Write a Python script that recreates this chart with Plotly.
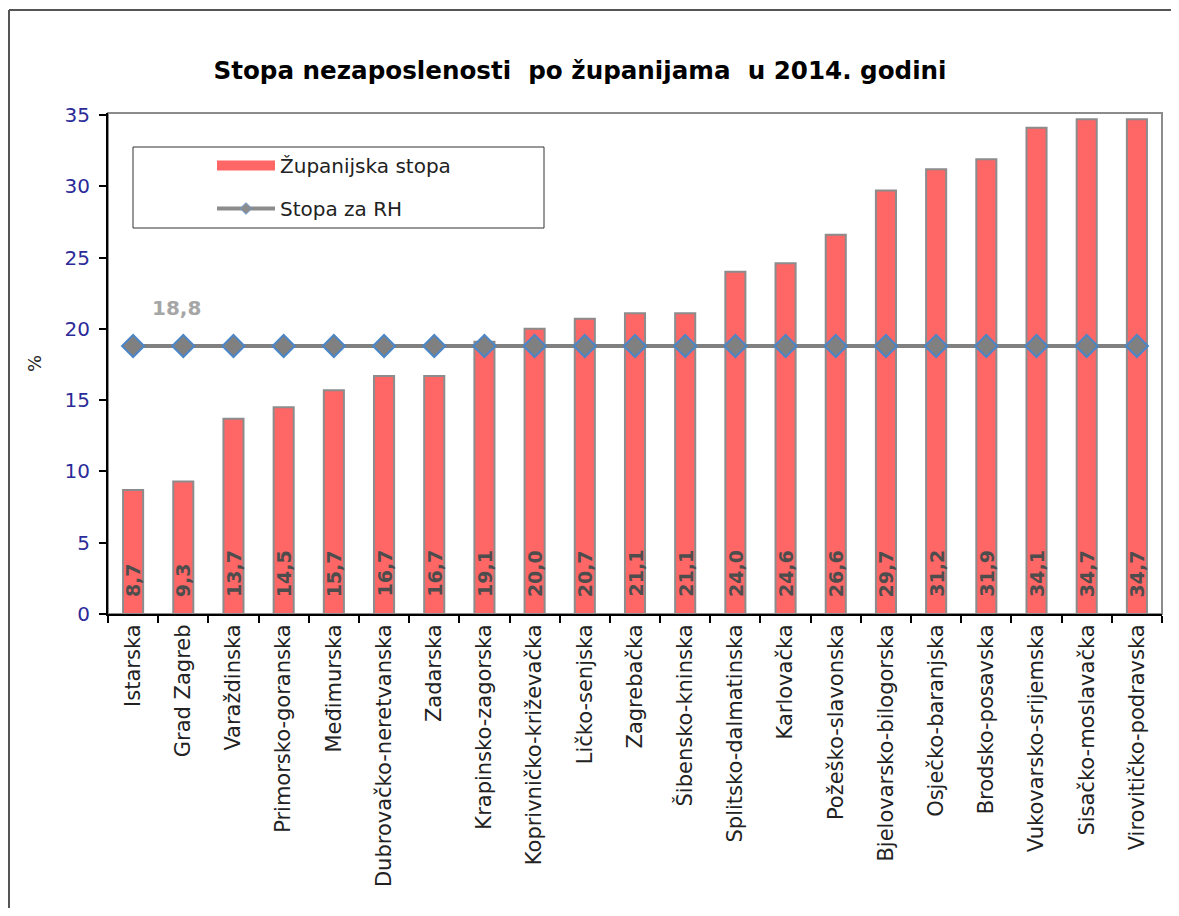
import plotly.graph_objects as go

counties = ["Istarska", "Grad Zagreb", "Varaždinska", "Primorsko-goranska", "Međimurska",
            "Dubrovačko-neretvanska", "Zadarska", "Krapinsko-zagorska", "Koprivničko-križevačka",
            "Ličko-senjska", "Zagrebačka", "Šibensko-kninska", "Splitsko-dalmatinska", "Karlovačka",
            "Požeško-slavonska", "Bjelovarsko-bilogorska", "Osječko-baranjska", "Brodsko-posavska",
            "Vukovarsko-srijemska", "Sisačko-moslavačka", "Virovitičko-podravska"]
county_rate = [8.7, 9.3, 13.7, 14.5, 15.7, 16.7, 16.7, 19.1, 20.0, 20.7, 21.1, 21.1,
               24.0, 24.6, 26.6, 29.7, 31.2, 31.9, 34.1, 34.7, 34.7]
national_rate = 18.8
national_line = [national_rate] * len(counties)
bar_labels = [f"{v:.1f}".replace(".", ",") for v in county_rate]
y_ticks = [0, 5, 10, 15, 20, 25, 30, 35]

# page has an 8px body margin; work in page pixels and convert
OFF = 8
W, H = 1179 - 2 * OFF, 916 - 2 * OFF
L, R, T, B = 108 - OFF, 1162 - OFF, 113 - OFF, 614 - OFF


def px(x):
    return (x - OFF - L) / (R - L)


def py(y):
    return (B - (y - OFF)) / (B - T)


FONT = "DejaVu Sans, Liberation Sans, Arial, sans-serif"

fig = go.Figure()
fig.add_trace(go.Bar(
    x=counties, y=county_rate, name="Županijska stopa",
    marker=dict(color="#FF6666", line=dict(color="#8C8C8C", width=2)),
    showlegend=False,
))
fig.add_trace(go.Scatter(
    x=counties, y=national_line, name="Stopa za RH", mode="lines+markers",
    line=dict(color="#808080", width=4),
    marker=dict(symbol="diamond", size=17, color="#808080", line=dict(color="#4A86C8", width=2)),
    showlegend=False,
))
# legend entries
fig.add_trace(go.Scatter(
    x=[counties[0]], y=[None], name="Županijska stopa", mode="lines",
    line=dict(color="#FF6666", width=10), legendgroup="a",
))
fig.add_trace(go.Scatter(
    x=[counties[0]], y=[None], name="Stopa za RH", mode="lines+markers",
    line=dict(color="#8C8C8C", width=4),
    marker=dict(symbol="diamond", size=9, color="#8C8C8C", line=dict(color="#6A9AD0", width=1)),
    legendgroup="b",
))

for c, lab in zip(counties, bar_labels):
    fig.add_annotation(x=c, y=0, xref="x", yref="y", text=f"<b>{lab}</b>", showarrow=False,
                       textangle=-90, yanchor="bottom", xanchor="center", yshift=15,
                       font=dict(family=FONT, size=19, color="#4D4D4D"))

fig.add_annotation(x=0.87, y=21.46, xref="x", yref="y", text="<b>18,8</b>", showarrow=False,
                   font=dict(family=FONT, size=20, color="#A6A6A6"))

shapes = [
    # plot area border
    dict(type="rect", xref="paper", yref="paper", x0=0, x1=1, y0=0, y1=1,
         line=dict(color="#8C8C8C", width=2), layer="below"),
    # outer frame (left and top edges)
    dict(type="line", xref="paper", yref="paper", x0=px(9), x1=px(9), y0=py(960), y1=py(10),
         line=dict(color="#555555", width=2), layer="below"),
    dict(type="line", xref="paper", yref="paper", x0=px(9), x1=px(1200), y0=py(10), y1=py(10),
         line=dict(color="#555555", width=2), layer="below"),
    # legend box
    dict(type="rect", xref="paper", yref="paper", x0=px(133), x1=px(544), y0=py(228), y1=py(147),
         line=dict(color="#333333", width=1), fillcolor="white", layer="below"),
]

fig.update_layout(
    width=W, height=H,
    margin=dict(l=L, r=W - R, t=T, b=H - B),
    paper_bgcolor="white", plot_bgcolor="white",
    bargap=0.6,
    title=dict(text="<b>Stopa nezaposlenosti  po županijama  u 2014. godini</b>",
               x=(580 - OFF) / W, xanchor="center", xref="container",
               y=1 - (70 - OFF) / H, yanchor="middle", yref="container",
               font=dict(family=FONT, size=24.6, color="#000000")),
    font=dict(family=FONT),
    showlegend=True,
    legend=dict(x=px(212), y=py(146), xanchor="left", yanchor="top",
                bgcolor="rgba(0,0,0,0)", borderwidth=0,
                font=dict(family=FONT, size=20, color="#222222"),
                traceorder="grouped", tracegroupgap=14, itemwidth=58),
    shapes=shapes,
    xaxis=dict(
        type="category", tickangle=-90, tickson="boundaries", ticks="outside", ticklen=7,
        tickcolor="#000000", tickwidth=1.5,
        showline=True, linecolor="#000000", linewidth=2, showgrid=False,
        tickfont=dict(family=FONT, size=21, color="#222222"),
        range=[-0.5, len(counties) - 0.5],
    ),
    yaxis=dict(
        range=[0, 35.14], tickvals=y_ticks, ticks="outside", ticklen=7,
        tickcolor="#000000", tickwidth=1.5,
        showline=True, linecolor="#000000", linewidth=2, showgrid=False, zeroline=False,
        tickfont=dict(family=FONT, size=20, color="#2B2B99"), ticklabelstandoff=5,
        title=dict(text="%", font=dict(family=FONT, size=18, color="#222222"), standoff=18),
    ),
)

fig.write_html("out.html")
